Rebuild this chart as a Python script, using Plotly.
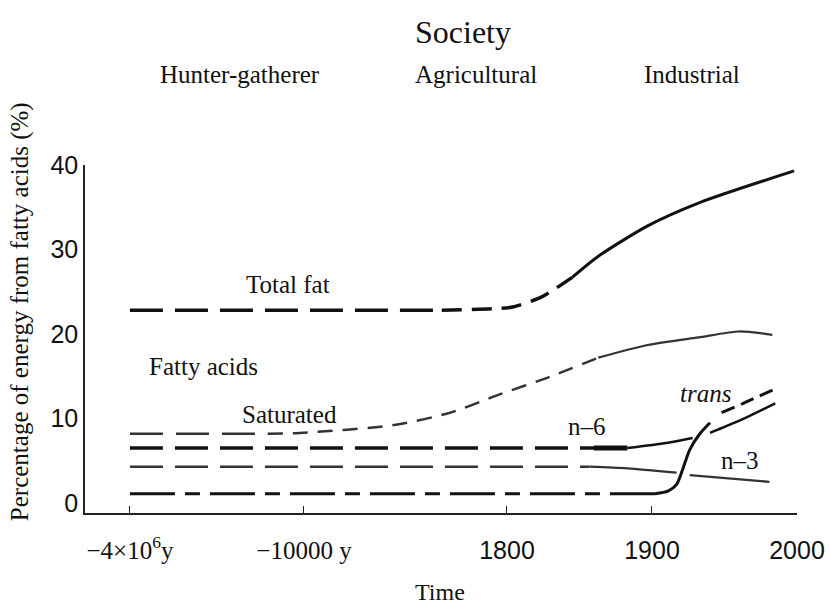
import plotly.graph_objects as go

# time axis is not linear: x values are positions along the drawn axis
# 0 = -4x10^6 y, 1.2 = -10000 y, 2.6 = 1800, 3.6 = 1900, 4.6 = 2000
tick_pos = [0, 1.2, 2.6, 3.6, 4.6]
tick_text = ['<span style="font-family:Liberation Serif">\u22124\u00d710<sup>6</sup>y</span>',
             '<span style="font-family:Liberation Serif">\u221210000 y</span>',
             '1800', '1900', '2000']
y_ticks = [0, 10, 20, 30, 40]

total_fat_x = [0, 2.15, 2.52, 2.64, 2.84, 3.05, 3.23, 3.57, 3.92, 4.58]
total_fat_y = [22.8, 22.8, 23.0, 23.2, 24.4, 26.7, 29.2, 32.8, 35.5, 39.3]

saturated_x = [0, 0.95, 1.17, 1.81, 2.21, 2.54, 2.89, 3.23, 3.57, 3.92, 4.2, 4.43]
saturated_y = [8.2, 8.2, 8.3, 9.2, 10.7, 12.8, 14.9, 17.2, 18.7, 19.6, 20.3, 19.9]

n6_x = [0, 3.2, 3.43, 3.70, 3.88, 4.0, 4.21, 4.45]
n6_y = [6.5, 6.5, 6.5, 7.1, 7.7, 8.3, 9.8, 11.8]

n3_x = [0, 3.17, 3.43, 3.77, 3.86, 4.41]
n3_y = [4.3, 4.3, 4.1, 3.6, 3.3, 2.5]

trans_x = [0, 3.62, 3.71, 3.77, 3.81, 3.86, 3.93, 4.0, 4.08, 4.23, 4.46]
trans_y = [1.1, 1.1, 1.4, 2.2, 3.9, 6.3, 8.2, 9.5, 10.7, 11.8, 13.6]

INK = '#111111'
FUZZ = '#333333'
SERIF = 'Liberation Serif'
SANS = 'Liberation Sans'

fig = go.Figure()


def seg(xs, ys, i0, i1, width, dash='solid', color=INK):
    fig.add_trace(go.Scatter(x=xs[i0:i1 + 1], y=ys[i0:i1 + 1], mode='lines',
                             line=dict(color=color, width=width, dash=dash,
                                       shape='spline', smoothing=0.7),
                             hoverinfo='skip'))


# Total fat: long dashes, shorter dashes on the rise, solid after
seg(total_fat_x, total_fat_y, 0, 1, 3.5, '33px,12px')
seg(total_fat_x, total_fat_y, 1, 5, 3.5, '20px,10px')
seg(total_fat_x, total_fat_y, 5, 9, 3)

# Saturated
seg(saturated_x, saturated_y, 0, 1, 2.5, '33px,13px', FUZZ)
seg(saturated_x, saturated_y, 1, 7, 2.5, '15px,10px', FUZZ)
seg(saturated_x, saturated_y, 7, 11, 2.2, 'solid', FUZZ)

# n-6
seg(n6_x, n6_y, 0, 1, 3.5, '33px,12px')
seg(n6_x, n6_y, 1, 2, 5)
seg(n6_x, n6_y, 2, 4, 2.5)
seg(n6_x, n6_y, 5, 7, 2.5)

# n-3
seg(n3_x, n3_y, 0, 1, 2.5, '33px,12px', FUZZ)
seg(n3_x, n3_y, 1, 3, 2.3, 'solid', FUZZ)
seg(n3_x, n3_y, 4, 5, 2.3, 'solid', FUZZ)

# trans
seg(trans_x, trans_y, 0, 1, 3, '45px,10px,15px,10px')
seg(trans_x, trans_y, 1, 7, 3)
seg(trans_x, trans_y, 8, 10, 3, '14px,7px')

labels = [
    ('Total fat', 1.09, 25.9, False),
    ('Fatty acids', 0.51, 16.1, False),
    ('Saturated', 1.10, 10.5, False),
    ('n\u20136', 3.15, 9.1, False),
    ('n\u20133', 4.21, 5.0, False),
    ('trans', 3.97, 13.0, True),
]
for txt, lx, ly, ital in labels:
    fig.add_annotation(x=lx, y=ly, xref='x', yref='y', showarrow=False,
                       xanchor='center', yanchor='middle',
                       text='<i>%s</i>' % txt if ital else txt,
                       font=dict(family=SERIF, size=25, color=INK))


def paper_text(txt, px, py, size, angle=0):
    fig.add_annotation(x=px, y=py, xref='paper', yref='paper', showarrow=False,
                       xanchor='center', yanchor='middle', textangle=angle,
                       text=txt, font=dict(family=SERIF, size=size, color=INK))


paper_text('Society', 0.531, 1.382, 32)
for txt, px in [('Hunter-gatherer', 0.218), ('Agricultural', 0.549), ('Industrial', 0.853)]:
    paper_text(txt, px, 1.259, 25)
paper_text('Percentage of energy from fatty acids (%)', -0.0913, 0.58, 25, -90)
paper_text('Time', 0.499, -0.227, 24)

fig.update_layout(
    template='none',
    width=831, height=604,
    margin=dict(l=85, r=34, t=165, b=91),
    paper_bgcolor='white', plot_bgcolor='white',
    showlegend=False,
    xaxis=dict(range=[-0.31, 4.6], tickvals=tick_pos, ticktext=tick_text,
               automargin=False,
               showline=True, linecolor='#222', linewidth=1.5,
               ticks='inside', ticklen=7, tickcolor='#222', tickwidth=1.2,
               showgrid=False, zeroline=False, ticklabelstandoff=14,
               tickfont=dict(family=SANS, size=25, color=INK)),
    yaxis=dict(range=[-1.18, 40], tickvals=y_ticks, automargin=False,
               showline=True, linecolor='#222', linewidth=1.5,
               ticks='', showgrid=False, zeroline=False, ticklabelstandoff=0,
               tickfont=dict(family=SANS, size=25, color=INK)),
)

# page body has a default 8px margin; drop it so the figure sits at 0,0
fig.write_html("out.html", config={'displayModeBar': False},
               post_script="document.body.style.margin='0px';")
